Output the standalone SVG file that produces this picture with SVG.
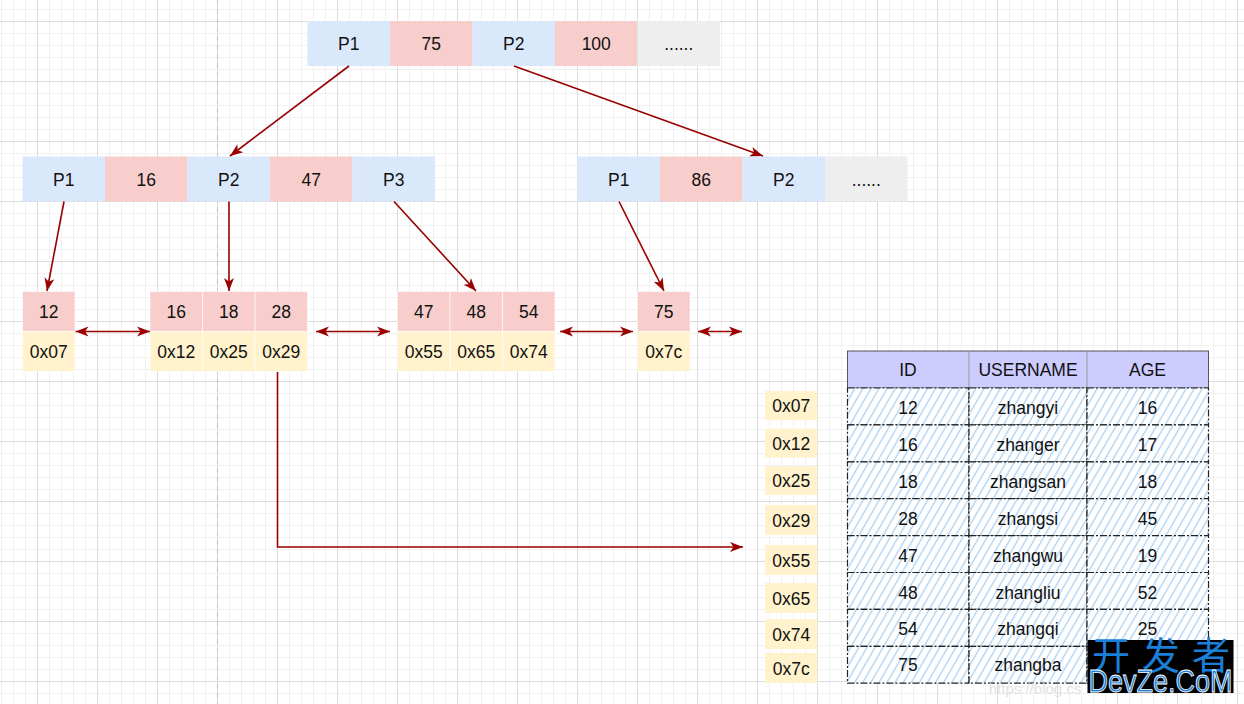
<svg xmlns="http://www.w3.org/2000/svg" width="1244" height="704" viewBox="0 0 1244 704">
<style>
text{font-family:"Liberation Sans",Arial,sans-serif;font-size:17.5px;fill:#111;text-anchor:middle}
.b{fill:#dae8fc}.r{fill:#f8cecc}.g{fill:#eeeeee}.y{fill:#fff2cc}
.lc{stroke:#ffffff;stroke-opacity:0.6;stroke-width:1}
.con{fill:none;stroke:#990000;stroke-width:1.6}
.row{fill:url(#hatch);stroke:#222;stroke-width:1.2;stroke-dasharray:7 2 2 2}
</style>
<defs>
<pattern id="grid" patternUnits="userSpaceOnUse" x="37" y="21" width="60" height="60">
<path d="M12.5 0V60M24.5 0V60M36.5 0V60M48.5 0V60M0 12.5H60M0 24.5H60M0 36.5H60M0 48.5H60" stroke="#f1f1f1" stroke-width="1" fill="none"/>
<path d="M0.5 0V60M0 0.5H60" stroke="#dddddd" stroke-width="1" fill="none"/>
</pattern>
<pattern id="hatch" patternUnits="userSpaceOnUse" width="7" height="7" patternTransform="rotate(30)">
<rect width="7" height="7" fill="#ffffff"/>
<path d="M3.5 0V7" stroke="#a8d0f5" stroke-width="1.3"/>
</pattern>
<marker id="ah" markerUnits="userSpaceOnUse" markerWidth="14" markerHeight="12" refX="13" refY="5" orient="auto-start-reverse" viewBox="0 0 14 10">
<path d="M0,0 L13,5 L0,10 L3.5,5 Z" fill="#990000"/>
</marker>
</defs>
<rect width="1244" height="704" fill="#ffffff"/>
<rect width="1244" height="704" fill="url(#grid)"/>
<line x1="217.5" y1="0" x2="217.5" y2="704" stroke="#c4c4c4" stroke-width="1" stroke-dasharray="5 4"/>

<g id="root">
<rect class="b" x="307.5" y="21" width="82.5" height="45"/><text x="348.75" y="50">P1</text>
<rect class="r" x="390" y="21" width="82.5" height="45"/><text x="431.25" y="50">75</text>
<rect class="b" x="472.5" y="21" width="82.5" height="45"/><text x="513.75" y="50">P2</text>
<rect class="r" x="555" y="21" width="82.5" height="45"/><text x="596.25" y="50">100</text>
<rect class="g" x="637.5" y="21" width="82.5" height="45"/><text x="678.75" y="50">......</text>
</g>

<g id="mid-left">
<rect class="b" x="22.5" y="156.5" width="82.5" height="45"/><text x="63.75" y="185.5">P1</text>
<rect class="r" x="105" y="156.5" width="82.5" height="45"/><text x="146.25" y="185.5">16</text>
<rect class="b" x="187.5" y="156.5" width="82.5" height="45"/><text x="228.75" y="185.5">P2</text>
<rect class="r" x="270" y="156.5" width="82.5" height="45"/><text x="311.25" y="185.5">47</text>
<rect class="b" x="352.5" y="156.5" width="82.5" height="45"/><text x="393.75" y="185.5">P3</text>
</g>

<g id="mid-right">
<rect class="b" x="577.5" y="156.5" width="82.5" height="45"/><text x="618.75" y="185.5">P1</text>
<rect class="r" x="660" y="156.5" width="82.5" height="45"/><text x="701.25" y="185.5">86</text>
<rect class="b" x="742.5" y="156.5" width="82.5" height="45"/><text x="783.75" y="185.5">P2</text>
<rect class="g" x="825" y="156.5" width="82.5" height="45"/><text x="866.25" y="185.5">......</text>
</g>

<g id="leaf-1">
<rect class="r lc" x="22.5" y="291.5" width="52.5" height="40"/><text x="48.75" y="318">12</text>
<rect class="y lc" x="22.5" y="331.5" width="52.5" height="40"/><text x="48.75" y="358">0x07</text>
</g>

<g id="leaf-2">
<rect class="r lc" x="150" y="291.5" width="52.5" height="40"/><text x="176.25" y="318">16</text>
<rect class="r lc" x="202.5" y="291.5" width="52.5" height="40"/><text x="228.75" y="318">18</text>
<rect class="r lc" x="255" y="291.5" width="52.5" height="40"/><text x="281.25" y="318">28</text>
<rect class="y lc" x="150" y="331.5" width="52.5" height="40"/><text x="176.25" y="358">0x12</text>
<rect class="y lc" x="202.5" y="331.5" width="52.5" height="40"/><text x="228.75" y="358">0x25</text>
<rect class="y lc" x="255" y="331.5" width="52.5" height="40"/><text x="281.25" y="358">0x29</text>
</g>

<g id="leaf-3">
<rect class="r lc" x="397.5" y="291.5" width="52.5" height="40"/><text x="423.75" y="318">47</text>
<rect class="r lc" x="450" y="291.5" width="52.5" height="40"/><text x="476.25" y="318">48</text>
<rect class="r lc" x="502.5" y="291.5" width="52.5" height="40"/><text x="528.75" y="318">54</text>
<rect class="y lc" x="397.5" y="331.5" width="52.5" height="40"/><text x="423.75" y="358">0x55</text>
<rect class="y lc" x="450" y="331.5" width="52.5" height="40"/><text x="476.25" y="358">0x65</text>
<rect class="y lc" x="502.5" y="331.5" width="52.5" height="40"/><text x="528.75" y="358">0x74</text>
</g>

<g id="leaf-4">
<rect class="r lc" x="637.5" y="291.5" width="52.5" height="40"/><text x="663.75" y="318">75</text>
<rect class="y lc" x="637.5" y="331.5" width="52.5" height="40"/><text x="663.75" y="358">0x7c</text>
</g>

<g id="addresses">
<rect class="y" x="765" y="391" width="52.5" height="29"/><text x="791.25" y="412">0x07</text>
<rect class="y" x="765" y="428.5" width="52.5" height="29"/><text x="791.25" y="449.5">0x12</text>
<rect class="y" x="765" y="466" width="52.5" height="29"/><text x="791.25" y="487">0x25</text>
<rect class="y" x="765" y="505" width="52.5" height="30"/><text x="791.25" y="526.5">0x29</text>
<rect class="y" x="765" y="545" width="52.5" height="30"/><text x="791.25" y="566.5">0x55</text>
<rect class="y" x="765" y="583" width="52.5" height="30"/><text x="791.25" y="604.5">0x65</text>
<rect class="y" x="765" y="619" width="52.5" height="30"/><text x="791.25" y="640.5">0x74</text>
<rect class="y" x="765" y="653" width="52.5" height="30"/><text x="791.25" y="674.5">0x7c</text>
</g>

<g id="table">
<rect x="847.5" y="351" width="361" height="37" fill="#ccccff" stroke="#555" stroke-width="1"/>
<line x1="969" y1="351" x2="969" y2="388" stroke="#999" stroke-width="1"/>
<line x1="1087" y1="351" x2="1087" y2="388" stroke="#999" stroke-width="1"/>
<text x="908" y="376">ID</text><text x="1028" y="376">USERNAME</text><text x="1147.5" y="376">AGE</text>
<g>
<rect class="row" x="847.5" y="388" width="121.5" height="36.9"/><rect class="row" x="969" y="388" width="118" height="36.9"/><rect class="row" x="1087" y="388" width="121.5" height="36.9"/>
<rect class="row" x="847.5" y="424.9" width="121.5" height="36.9"/><rect class="row" x="969" y="424.9" width="118" height="36.9"/><rect class="row" x="1087" y="424.9" width="121.5" height="36.9"/>
<rect class="row" x="847.5" y="461.8" width="121.5" height="36.9"/><rect class="row" x="969" y="461.8" width="118" height="36.9"/><rect class="row" x="1087" y="461.8" width="121.5" height="36.9"/>
<rect class="row" x="847.5" y="498.7" width="121.5" height="36.9"/><rect class="row" x="969" y="498.7" width="118" height="36.9"/><rect class="row" x="1087" y="498.7" width="121.5" height="36.9"/>
<rect class="row" x="847.5" y="535.6" width="121.5" height="36.9"/><rect class="row" x="969" y="535.6" width="118" height="36.9"/><rect class="row" x="1087" y="535.6" width="121.5" height="36.9"/>
<rect class="row" x="847.5" y="572.5" width="121.5" height="36.9"/><rect class="row" x="969" y="572.5" width="118" height="36.9"/><rect class="row" x="1087" y="572.5" width="121.5" height="36.9"/>
<rect class="row" x="847.5" y="609.4" width="121.5" height="36.9"/><rect class="row" x="969" y="609.4" width="118" height="36.9"/><rect class="row" x="1087" y="609.4" width="121.5" height="36.9"/>
<rect class="row" x="847.5" y="646.3" width="121.5" height="36.9"/><rect class="row" x="969" y="646.3" width="118" height="36.9"/><rect class="row" x="1087" y="646.3" width="121.5" height="36.9"/>
</g>
<text x="908" y="413.5">12</text><text x="1028" y="413.5">zhangyi</text><text x="1147.5" y="413.5">16</text>
<text x="908" y="450.5">16</text><text x="1028" y="450.5">zhanger</text><text x="1147.5" y="450.5">17</text>
<text x="908" y="488">18</text><text x="1028" y="488">zhangsan</text><text x="1147.5" y="488">18</text>
<text x="908" y="524.5">28</text><text x="1028" y="524.5">zhangsi</text><text x="1147.5" y="524.5">45</text>
<text x="908" y="562">47</text><text x="1028" y="562">zhangwu</text><text x="1147.5" y="562">19</text>
<text x="908" y="598.5">48</text><text x="1028" y="598.5">zhangliu</text><text x="1147.5" y="598.5">52</text>
<text x="908" y="635">54</text><text x="1028" y="635">zhangqi</text><text x="1147.5" y="635">25</text>
<text x="908" y="671">75</text><text x="1028" y="671">zhangba</text>
</g>

<g id="connectors">
<line class="con" x1="349" y1="66" x2="230" y2="156" marker-end="url(#ah)"/>
<line class="con" x1="514" y1="66" x2="763" y2="156" marker-end="url(#ah)"/>
<line class="con" x1="64" y1="201.5" x2="47" y2="291" marker-end="url(#ah)"/>
<line class="con" x1="229" y1="201.5" x2="229" y2="291" marker-end="url(#ah)"/>
<line class="con" x1="394" y1="201.5" x2="476" y2="291" marker-end="url(#ah)"/>
<line class="con" x1="619" y1="201.5" x2="664" y2="291" marker-end="url(#ah)"/>
<polyline class="con" points="277.5,372 277.5,547 743,547" marker-end="url(#ah)"/>
<line class="con" x1="75.5" y1="331.5" x2="150" y2="331.5" marker-start="url(#ah)" marker-end="url(#ah)"/>
<line class="con" x1="316" y1="331.5" x2="390" y2="331.5" marker-start="url(#ah)" marker-end="url(#ah)"/>
<line class="con" x1="560" y1="331.5" x2="633" y2="331.5" marker-start="url(#ah)" marker-end="url(#ah)"/>
<line class="con" x1="698" y1="331.5" x2="742" y2="331.5" marker-start="url(#ah)" marker-end="url(#ah)"/>
</g>

<text x="1035" y="694" style="font-size:15px;fill:#e2e2e2">https://blog.cs</text>
<g id="watermark">
<rect x="1087.5" y="640" width="146" height="53" fill="#000000"/>
<text style="font-family:'Noto Sans CJK SC',sans-serif;font-size:38px;fill:#1a7fd8;text-anchor:middle"><tspan x="1111" y="669">开</tspan><tspan x="1161" y="669">发</tspan><tspan x="1211" y="669">者</tspan></text>
<text x="1160.5" y="692" textLength="144" lengthAdjust="spacingAndGlyphs" style="font-size:32px;fill:#1a7fd8;stroke:#ffffff;stroke-width:0.8;text-anchor:middle">DevZe.CoM</text>
</g>
</svg>
